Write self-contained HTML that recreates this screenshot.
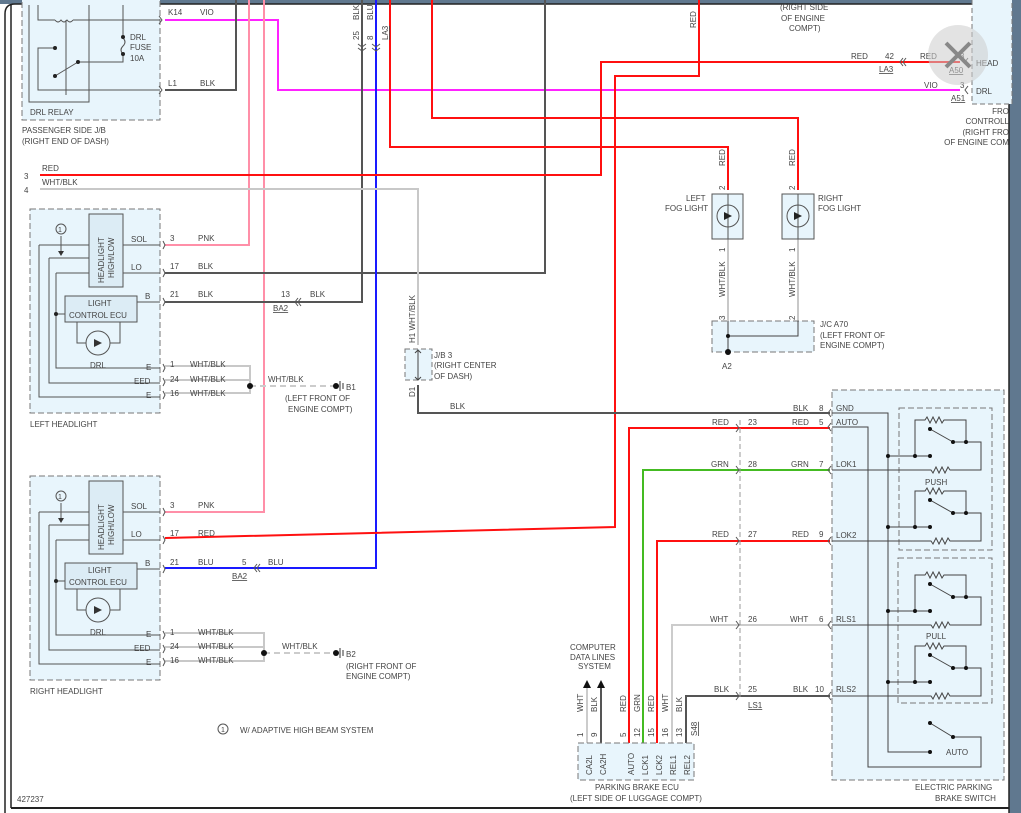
<!DOCTYPE html>
<html><head><meta charset="utf-8"><style>
html,body{margin:0;padding:0;background:#60788f;}
svg{display:block}
text{font-family:"Liberation Sans",sans-serif;font-size:8px;fill:#444}
</style></head><body>
<svg width="1021" height="813" viewBox="0 0 1021 813" xmlns="http://www.w3.org/2000/svg">
<defs>
<g id="hl">
 <rect x="30" y="209" width="130" height="204" fill="#e8f5fc" stroke="#777" stroke-dasharray="6,3"/>
 <rect x="89" y="214" width="34" height="73" fill="#dcecf5" stroke="#555"/>
 <text transform="translate(104,283) rotate(-90)">HEADLIGHT</text>
 <text transform="translate(114,278) rotate(-90)">HIGH/LOW</text>
 <g fill="none" stroke="#555" stroke-width="1">
  <path d="M123 245H160M123 273H160M39 245H89M39 245V397H160M49 258H89M49 258V383H160M56 273H89M56 273V368H160M61 236V251M137 302H160M56 314H65M77 322V343H86M120 322V343H110"/>
  <circle cx="61" cy="229" r="5"/>
  <circle cx="98" cy="343" r="12"/>
 </g>
 <text x="58" y="232" style="font-size:7px">1</text>
 <path d="M58 251L61 256L64 251Z" fill="#333"/>
 <circle cx="56" cy="314" r="2" fill="#222"/>
 <rect x="65" y="296" width="72" height="26" fill="#dcecf5" stroke="#555"/>
 <text x="88" y="306">LIGHT</text>
 <text x="69" y="318">CONTROL ECU</text>
 <path d="M94 339L102 343L94 347ZM102 339V347" fill="#333"/>
 <text x="90" y="368">DRL</text>
 <text x="131" y="242">SOL</text><text x="131" y="270">LO</text><text x="145" y="299">B</text>
 <text x="146" y="370">E</text><text x="134" y="384">EED</text><text x="146" y="398">E</text>
 <g fill="none" stroke="#555"><path d="M163 241l2 4l-2 4M163 269l2 4l-2 4M163 298l2 4l-2 4M163 364l2 4l-2 4M163 378l2 4l-2 4M163 391l2 4l-2 4"/></g>
</g>
</defs>
<path d="M0 4H1009V813H0Z" fill="#fff"/>
<rect x="1009" y="0" width="12" height="813" fill="#60788f"/>
<path d="M5 813V14Q5 4 15 4H998Q1009 4 1009 16V813" fill="#fff" stroke="#222" stroke-width="1.5"/>
<line x1="11" y1="4" x2="11" y2="808" stroke="#222" stroke-width="1.5"/>
<line x1="11" y1="808" x2="1009" y2="808" stroke="#222" stroke-width="2"/>

<!-- DRL relay -->
<rect x="22" y="-5" width="138" height="125" fill="#e8f5fc" stroke="#777" stroke-dasharray="6,3"/>
<g fill="none" stroke="#555">
 <path d="M38 5V20H55M73 20H160M55 20q3 4 6 0q3 4 6 0q3 4 6 0M66 20V95M89 5V102H29V5M123 5V35M123 55V62H78M55 48H38V90H160M55 76L78 62M123 38q4 4 0 8q-4 4 0 8"/>
 <path d="M159 16l3 4l-3 4M159 86l3 4l-3 4"/>
</g>
<circle cx="55" cy="48" r="2" fill="#222"/><circle cx="55" cy="76" r="2" fill="#222"/><circle cx="78" cy="62" r="2" fill="#222"/><circle cx="123" cy="37" r="2" fill="#222"/><circle cx="123" cy="54" r="2" fill="#222"/>
<text x="130" y="40">DRL</text><text x="130" y="50">FUSE</text><text x="130" y="61">10A</text>
<text x="30" y="115">DRL RELAY</text>
<text x="22" y="133">PASSENGER SIDE J/B</text><text x="22" y="144">(RIGHT END OF DASH)</text>
<text x="168" y="15">K14</text><text x="200" y="15">VIO</text>
<text x="168" y="86">L1</text><text x="200" y="86">BLK</text>

<!-- wires -->
<g fill="none" stroke-width="2">
 <path d="M165 20H278V90H960" stroke="#ff22ff"/>
 <path d="M165 90H236V0" stroke="#555"/>
 <path d="M165 245H249V0" stroke="#ff8fa8"/>
 <path d="M165 512H264V0" stroke="#ff8fa8"/>
 <path d="M165 273H545V0" stroke="#555"/>
 <path d="M165 302H362V0" stroke="#555"/>
 <path d="M165 568H376V0" stroke="#1a1aff"/>
 <path d="M40 175H601V62H960" stroke="#ff1010"/>
 <path d="M165 538L615 527V76H699V0" stroke="#ff1010"/>
 <path d="M390 0V147H728V190" stroke="#ff1010"/>
 <path d="M432 0V118H798V190" stroke="#ff1010"/>
 <path d="M40 189H418V345" stroke="#c8c8c8"/>
 <path d="M418 385V413H830" stroke="#555"/>
 <path d="M165 366H250V393H165M165 380H250" stroke="#c8c8c8"/>
 <path d="M165 633H264V661H165M165 647H264" stroke="#c8c8c8"/>
 <path d="M728 239V321M798 239V321" stroke="#c8c8c8"/>
 <path d="M629 743V428H830" stroke="#ff1010"/>
 <path d="M643 743V470H830" stroke="#44bb22"/>
 <path d="M657 743V541H830" stroke="#ff1010"/>
 <path d="M672 743V625H830" stroke="#ccc"/>
 <path d="M686 743V696H830" stroke="#555"/>
 <path d="M587 743V688" stroke="#ccc"/><path d="M601 743V688" stroke="#555"/>
</g>
<path d="M250 386H335M264 653H335" stroke="#ccc" stroke-width="2" stroke-dasharray="6,4"/>
<path d="M740 420V700" stroke="#999" stroke-dasharray="5,3"/>
<circle cx="250" cy="386" r="3" fill="#111"/><circle cx="264" cy="653" r="3" fill="#111"/>
<circle cx="336" cy="386" r="3" fill="#111"/><circle cx="336" cy="653" r="3" fill="#111"/>
<path d="M340 381V391M343 383V389M340 648V658M343 650V656" stroke="#333"/>
<path d="M583 688L587 680L591 688ZM597 688L601 680L605 688Z" fill="#111"/>

<use href="#hl"/>
<use href="#hl" transform="translate(0,267)"/>
<text x="30" y="427">LEFT HEADLIGHT</text>
<text x="30" y="694">RIGHT HEADLIGHT</text>

<!-- left labels -->
<text x="42" y="171">RED</text><text x="24" y="179">3</text>
<text x="42" y="185">WHT/BLK</text><text x="24" y="193">4</text>
<text x="170" y="241">3</text><text x="198" y="241">PNK</text>
<text x="170" y="269">17</text><text x="198" y="269">BLK</text>
<text x="170" y="297">21</text><text x="198" y="297">BLK</text>
<text x="281" y="297">13</text><text x="310" y="297">BLK</text><text x="273" y="311" text-decoration="underline">BA2</text>
<text x="170" y="367">1</text><text x="190" y="367">WHT/BLK</text>
<text x="170" y="382">24</text><text x="190" y="382">WHT/BLK</text>
<text x="170" y="396">16</text><text x="190" y="396">WHT/BLK</text>
<text x="268" y="382">WHT/BLK</text>
<text x="346" y="390">B1</text><text x="285" y="401">(LEFT FRONT OF</text><text x="288" y="412">ENGINE COMPT)</text>
<text x="170" y="508">3</text><text x="198" y="508">PNK</text>
<text x="170" y="536">17</text><text x="198" y="536">RED</text>
<text x="170" y="565">21</text><text x="198" y="565">BLU</text>
<text x="242" y="565">5</text><text x="268" y="565">BLU</text><text x="232" y="579" text-decoration="underline">BA2</text>
<text x="170" y="635">1</text><text x="198" y="635">WHT/BLK</text>
<text x="170" y="649">24</text><text x="198" y="649">WHT/BLK</text>
<text x="170" y="663">16</text><text x="198" y="663">WHT/BLK</text>
<text x="282" y="649">WHT/BLK</text>
<text x="346" y="657">B2</text><text x="346" y="669">(RIGHT FRONT OF</text><text x="346" y="679">ENGINE COMPT)</text>
<circle cx="223" cy="729" r="5" fill="none" stroke="#555"/><text x="221" y="732" style="font-size:7px">1</text>
<text x="240" y="733">W/ ADAPTIVE HIGH BEAM SYSTEM</text>
<text x="17" y="802">427237</text>
<g fill="none" stroke="#555"><path d="M298 298l-3 4l3 4M301 298l-3 4l3 4M257 564l-3 4l3 4M260 564l-3 4l3 4M358 44l4 3l4 -3M358 48l4 3l4 -3M372 44l4 3l4 -3M372 48l4 3l4 -3"/></g>
<text transform="translate(359,40) rotate(-90)">25</text><text transform="translate(373,40) rotate(-90)">8</text>
<text transform="translate(388,40) rotate(-90)" text-decoration="underline">LA3</text>
<text transform="translate(359,20) rotate(-90)">BLK</text><text transform="translate(373,20) rotate(-90)">BLU</text>
<text transform="translate(696,28) rotate(-90)">RED</text>

<!-- J/B 3 -->
<rect x="405" y="349" width="27" height="31" fill="#e8f5fc" stroke="#777" stroke-dasharray="5,3"/>
<path d="M418 350V380M415 353l3-3l3 3M415 377l3 3l3-3" fill="none" stroke="#444"/>
<text x="434" y="358">J/B 3</text><text x="434" y="368">(RIGHT CENTER</text><text x="434" y="379">OF DASH)</text>
<text transform="translate(415,343) rotate(-90)">H1  WHT/BLK</text>
<text transform="translate(415,397) rotate(-90)">D1</text>
<text x="450" y="409">BLK</text>

<!-- top right -->
<text x="780" y="10">(RIGHT SIDE</text><text x="781" y="21">OF ENGINE</text><text x="789" y="31">COMPT)</text>
<rect x="972" y="-5" width="40" height="109" fill="#e8f5fc" stroke="#777" stroke-dasharray="5,3"/>
<text x="976" y="66">HEAD</text><text x="976" y="94">DRL</text>
<text x="1009" y="114" text-anchor="end">FRO</text><text x="1009" y="124" text-anchor="end">CONTROLL</text>
<text x="1009" y="135" text-anchor="end">(RIGHT FRO</text><text x="1009" y="145" text-anchor="end">OF ENGINE COM</text>
<text x="851" y="59">RED</text><text x="885" y="59">42</text><text x="920" y="59">RED</text><text x="879" y="72" text-decoration="underline">LA3</text>
<text x="924" y="88">VIO</text><text x="960" y="88">3</text><text x="951" y="101" text-decoration="underline">A51</text>
<text x="960" y="59">3</text><text x="949" y="73" text-decoration="underline">A50</text>
<path d="M903 58l-3 4l3 4M906 58l-3 4l3 4M968 86l-3 4l3 4M968 58l-3 4l3 4" fill="none" stroke="#555"/>
<circle cx="958" cy="55" r="30" fill="#ccc" opacity="0.55"/>
<path d="M946 43L970 67M970 43L946 67" stroke="#888" stroke-width="4"/>

<!-- fog lights -->
<g fill="#e8f5fc" stroke="#555"><rect x="712" y="194" width="31" height="45"/><rect x="782" y="194" width="32" height="45"/></g>
<g fill="none" stroke="#555"><circle cx="728" cy="216" r="11"/><circle cx="798" cy="216" r="11"/><path d="M728 194V239M798 194V239"/></g>
<path d="M724 212L732 216L724 220ZM794 212L802 216L794 220Z" fill="#222"/>
<text transform="translate(725,166) rotate(-90)">RED</text><text transform="translate(795,166) rotate(-90)">RED</text>
<text transform="translate(725,190) rotate(-90)">2</text><text transform="translate(795,190) rotate(-90)">2</text>
<text transform="translate(725,252) rotate(-90)">1</text><text transform="translate(795,252) rotate(-90)">1</text>
<text transform="translate(725,297) rotate(-90)">WHT/BLK</text><text transform="translate(795,297) rotate(-90)">WHT/BLK</text>
<text transform="translate(725,320) rotate(-90)">3</text><text transform="translate(795,320) rotate(-90)">2</text>
<text x="686" y="201">LEFT</text><text x="665" y="211">FOG LIGHT</text>
<text x="818" y="201">RIGHT</text><text x="818" y="211">FOG LIGHT</text>
<rect x="712" y="321" width="102" height="31" fill="#e8f5fc" stroke="#777" stroke-dasharray="6,3"/>
<path d="M728 321V355M728 336H798V321" fill="none" stroke="#444"/>
<circle cx="728" cy="336" r="2" fill="#111"/><circle cx="728" cy="352" r="3" fill="#111"/>
<text x="820" y="327">J/C A70</text><text x="820" y="338">(LEFT FRONT OF</text><text x="820" y="348">ENGINE COMPT)</text>
<text x="722" y="369">A2</text>

<!-- parking brake labels -->
<text x="793" y="411">BLK</text><text x="819" y="411">8</text>
<text x="712" y="425">RED</text><text x="748" y="425">23</text><text x="792" y="425">RED</text><text x="819" y="425">5</text>
<text x="711" y="467">GRN</text><text x="748" y="467">28</text><text x="791" y="467">GRN</text><text x="819" y="467">7</text>
<text x="712" y="537">RED</text><text x="748" y="537">27</text><text x="792" y="537">RED</text><text x="819" y="537">9</text>
<text x="710" y="622">WHT</text><text x="748" y="622">26</text><text x="790" y="622">WHT</text><text x="819" y="622">6</text>
<text x="714" y="692">BLK</text><text x="748" y="692">25</text><text x="793" y="692">BLK</text><text x="815" y="692">10</text>
<text x="748" y="708" text-decoration="underline">LS1</text>
<g fill="none" stroke="#555"><path d="M736 424l3 4l-3 4M736 466l3 4l-3 4M736 537l3 4l-3 4M736 621l3 4l-3 4M736 692l3 4l-3 4M831 409l-3 4l3 4M831 423l-3 4l3 4M831 466l-3 4l3 4M831 537l-3 4l3 4M831 621l-3 4l3 4M831 692l-3 4l3 4"/></g>
<text x="570" y="650">COMPUTER</text><text x="570" y="660">DATA LINES</text><text x="578" y="669">SYSTEM</text>
<text transform="translate(583,712) rotate(-90)">WHT</text><text transform="translate(597,712) rotate(-90)">BLK</text>
<text transform="translate(626,712) rotate(-90)">RED</text><text transform="translate(640,712) rotate(-90)">GRN</text>
<text transform="translate(654,712) rotate(-90)">RED</text><text transform="translate(668,712) rotate(-90)">WHT</text>
<text transform="translate(682,712) rotate(-90)">BLK</text>
<text transform="translate(583,737) rotate(-90)">1</text><text transform="translate(597,737) rotate(-90)">9</text>
<text transform="translate(626,737) rotate(-90)">5</text><text transform="translate(640,737) rotate(-90)">12</text>
<text transform="translate(654,737) rotate(-90)">15</text><text transform="translate(668,737) rotate(-90)">16</text>
<text transform="translate(682,737) rotate(-90)">13</text>
<text transform="translate(697,736) rotate(-90)" text-decoration="underline">S48</text>
<rect x="578" y="743" width="116" height="37" fill="#e8f5fc" stroke="#777" stroke-dasharray="6,3"/>
<text transform="translate(592,775) rotate(-90)">CA2L</text><text transform="translate(606,775) rotate(-90)">CA2H</text>
<text transform="translate(634,775) rotate(-90)">AUTO</text><text transform="translate(648,775) rotate(-90)">LCK1</text>
<text transform="translate(662,775) rotate(-90)">LCK2</text><text transform="translate(676,775) rotate(-90)">REL1</text>
<text transform="translate(690,775) rotate(-90)">REL2</text>
<text x="595" y="790">PARKING BRAKE ECU</text><text x="570" y="801">(LEFT SIDE OF LUGGAGE COMPT)</text>

<!-- switch -->
<rect x="832" y="390" width="172" height="390" fill="#e8f5fc" stroke="#777" stroke-dasharray="6,3"/>
<rect x="899" y="408" width="93" height="142" fill="none" stroke="#777" stroke-dasharray="6,3"/>
<rect x="898" y="558" width="94" height="145" fill="none" stroke="#777" stroke-dasharray="6,3"/>
<text x="836" y="411">GND</text><text x="836" y="425">AUTO</text><text x="836" y="467">LOK1</text>
<text x="836" y="538">LOK2</text><text x="836" y="622">RLS1</text><text x="836" y="692">RLS2</text>
<text x="925" y="485">PUSH</text><text x="926" y="639">PULL</text><text x="946" y="755">AUTO</text>
<text x="915" y="790">ELECTRIC PARKING</text><text x="935" y="801">BRAKE SWITCH</text>
<g fill="none" stroke="#444">
 <path d="M832 413H888V752H930M832 427H868V767H981V737H953M930 723L953 737"/>
 <g id="sw"><path d="M888 456H930M915 456V420H925l2-3l3 6l3-6l3 6l3-6l3 6l2-3H966V442H953M930 429L953 442M966 442H981V470H950l-2-3l-3 6l-3-6l-3 6l-3-6l-3 6l-2-3H832"/></g>
 <use href="#sw" transform="translate(0,71)"/><use href="#sw" transform="translate(0,155)"/><use href="#sw" transform="translate(0,226)"/>
</g>
<g fill="#111">
 <g id="dots"><circle cx="888" cy="456" r="2"/><circle cx="915" cy="456" r="2"/><circle cx="930" cy="456" r="2"/><circle cx="930" cy="429" r="2"/><circle cx="953" cy="442" r="2"/><circle cx="966" cy="442" r="2"/></g>
 <use href="#dots" transform="translate(0,71)"/><use href="#dots" transform="translate(0,155)"/><use href="#dots" transform="translate(0,226)"/>
 <circle cx="930" cy="723" r="2"/><circle cx="953" cy="737" r="2"/><circle cx="930" cy="752" r="2"/>
</g>
</svg>
</body></html>
